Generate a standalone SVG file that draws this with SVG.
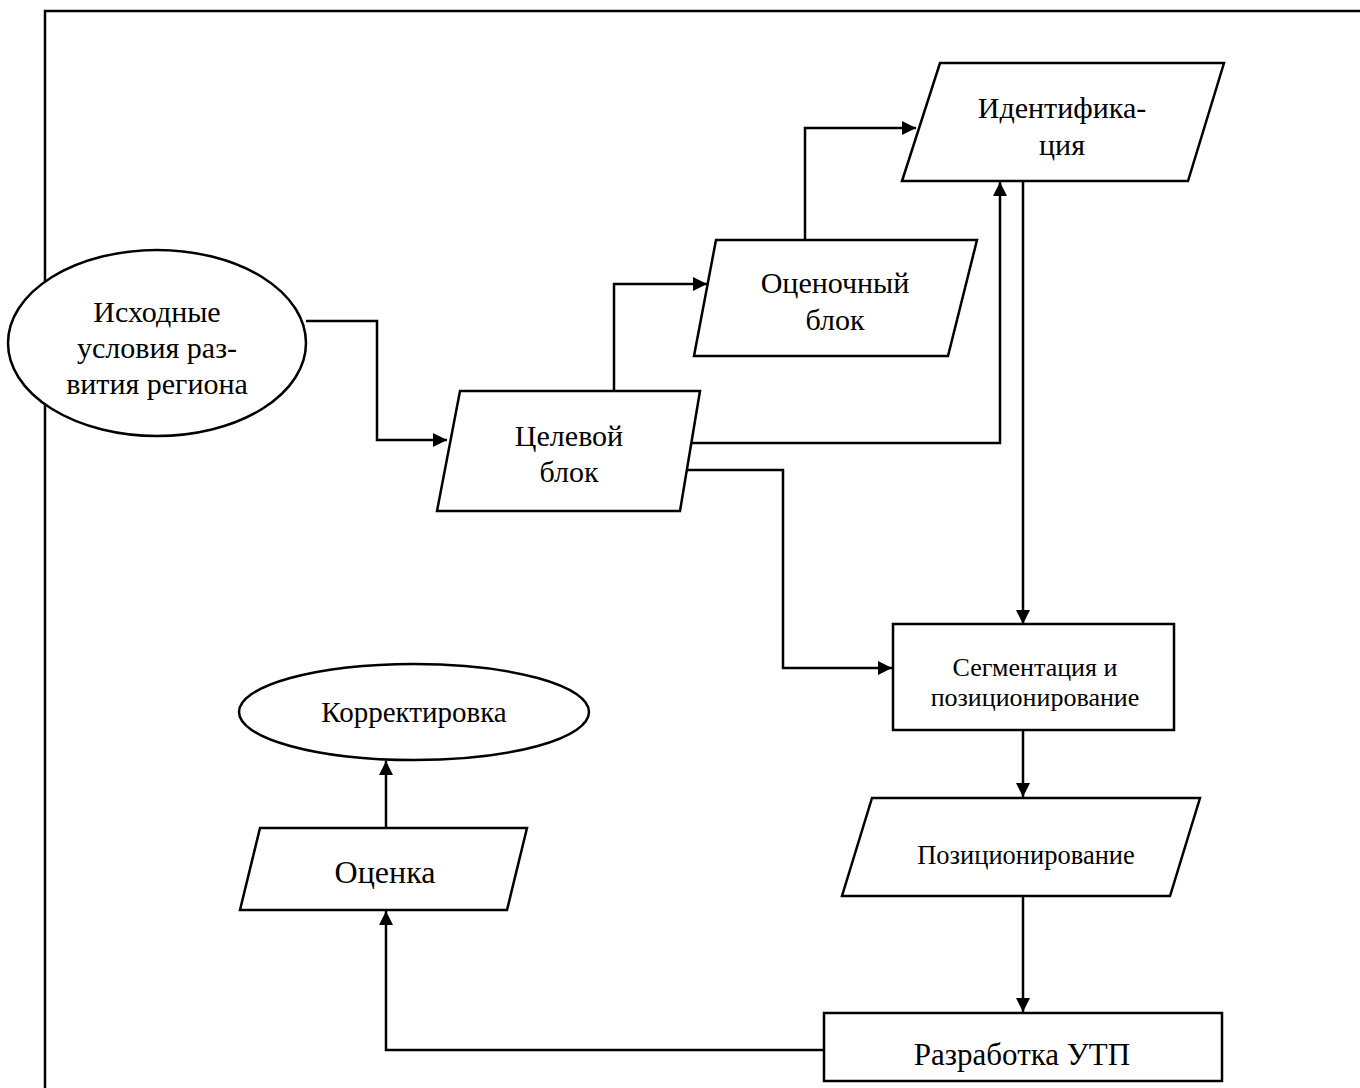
<svg xmlns="http://www.w3.org/2000/svg" width="1360" height="1088" viewBox="0 0 1360 1088">
<defs>
<marker id="arr" viewBox="0 0 10 10" refX="10" refY="5" markerWidth="15" markerHeight="14" markerUnits="userSpaceOnUse" orient="auto">
<path d="M0,0 L10,5 L0,10 z" fill="#000"/>
</marker>
</defs>
<style>
.s{fill:#fff;stroke:#000;stroke-width:2.5}
.c{fill:none;stroke:#000;stroke-width:2.5;marker-end:url(#arr)}
.t{font-family:"Liberation Serif","Times New Roman",serif;font-size:30px;fill:#000;text-anchor:middle}
.m{font-size:26px}
</style>
<rect width="1360" height="1088" fill="#fff"/>
<path d="M45,1088 V11 H1360" fill="none" stroke="#000" stroke-width="2.5"/>
<g id="connectors">
<path class="c" d="M306,321 H377 V440 H447"/>
<path class="c" d="M614,391 V284 H707"/>
<path class="c" d="M805,240 V128 H916"/>
<path class="c" d="M690,443 H1000 V182"/>
<path class="c" d="M1023,181 V624"/>
<path class="c" d="M683,470 H783 V668 H892"/>
<path class="c" d="M1023,730 V797"/>
<path class="c" d="M1023,896 V1012"/>
<path class="c" d="M824,1050 H386 V911"/>
<path class="c" d="M386,828 V761"/>
</g>
<g id="n-ishod">
<ellipse class="s" cx="157" cy="343" rx="149" ry="93"/>
<text class="t" x="157" y="322">Исходные</text>
<text class="t" x="157" y="358">условия раз-</text>
<text class="t" x="157" y="394">вития региона</text>
</g>
<g id="n-celevoy">
<polygon class="s" points="460,391 700,391 680,511 437,511"/>
<text class="t" x="569" y="446">Целевой</text>
<text class="t" x="569" y="482">блок</text>
</g>
<g id="n-ocenochny">
<polygon class="s" points="716,240 977,240 948,356 694,356"/>
<text class="t" x="835" y="293">Оценочный</text>
<text class="t" x="835" y="330">блок</text>
</g>
<g id="n-ident">
<polygon class="s" points="940,63 1224,63 1188,181 902,181"/>
<text class="t" x="1062" y="118">Идентифика-</text>
<text class="t" x="1062" y="155">ция</text>
</g>
<g id="n-segment">
<rect class="s" x="893" y="624" width="281" height="106"/>
<text class="t m" x="1035" y="676">Сегментация и</text>
<text class="t m" x="1035" y="706">позиционирование</text>
</g>
<g id="n-pozic">
<polygon class="s" points="872,798 1200,798 1170,896 842,896"/>
<text class="t" x="1026" y="864" style="font-size:26.5px">Позиционирование</text>
</g>
<g id="n-utp">
<rect class="s" x="824" y="1013" width="398" height="68"/>
<text class="t" x="1022" y="1065" style="font-size:31px">Разработка УТП</text>
</g>
<g id="n-korr">
<ellipse class="s" cx="414" cy="712" rx="175" ry="48"/>
<text class="t" x="414" y="722" style="font-size:29px">Корректировка</text>
</g>
<g id="n-ocenka">
<polygon class="s" points="260,828 527,828 507,910 240,910"/>
<text class="t" x="385" y="883" style="font-size:32px">Оценка</text>
</g>
</svg>
